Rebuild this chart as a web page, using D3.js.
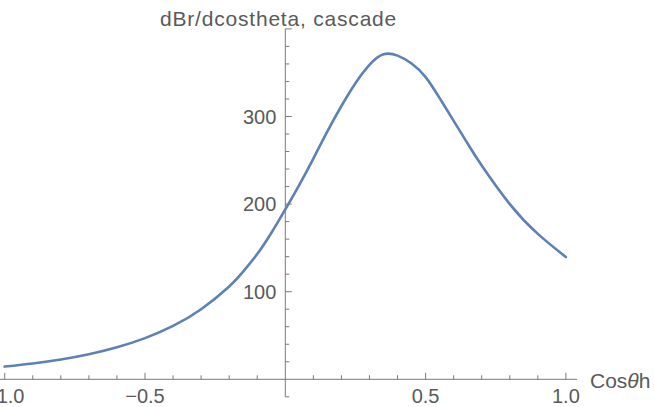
<!DOCTYPE html>
<html>
<head>
<meta charset="utf-8">
<script src="https://cdn.jsdelivr.net/npm/d3@7"></script>
<style>
  html, body { margin: 0; padding: 0; background: #fff; }
  svg { display: block; }
  text { font-family: "Liberation Sans", Arial, sans-serif; fill: #5a5a5a; }
</style>
</head>
<body>
<svg id="chart" width="654" height="407"></svg>
<script>
// ---- data ----
const cosTheta = [-1.0, -0.9, -0.8, -0.7, -0.6, -0.5, -0.4, -0.3, -0.2, -0.15, -0.1, -0.05, 0.0,
                  0.05, 0.1, 0.15, 0.2, 0.25, 0.3, 0.35, 0.4, 0.45, 0.5, 0.55, 0.6, 0.65, 0.7, 0.8, 0.9, 1.0];
const dBr = [14.5, 18.0, 22.5, 28.5, 36.5, 47.0, 61.0, 80.0, 106.0, 123.0, 143.0, 167.0, 194.0,
             222.0, 252.0, 283.0, 312.0, 338.0, 359.0, 371.0, 369.5, 360.5, 345.0, 321.0, 295.0, 269.0, 244.0, 200.0, 166.0, 139.6];
const xMajorTicks = [-1.0, -0.5, 0.5, 1.0];
const xTickLabels = ["\u22121.0", "\u22120.5", "0.5", "1.0"];
const yMajorTicks = [100, 200, 300];
const yTickLabels = ["100", "200", "300"];
const yAxisTitle = "dBr/dcostheta, cascade";

const svg = d3.select("#chart");

const x = d3.scaleLinear().domain([-1, 1]).range([4.7, 565.9]);
const y = d3.scaleLinear().domain([0, 100]).range([379.3, 291.7]);

const axisColor = "#7a7a7a";

// x axis line
svg.append("line")
  .attr("x1", x(-1.02)).attr("x2", x(1.04))
  .attr("y1", y(0)).attr("y2", y(0))
  .attr("stroke", axisColor).attr("stroke-width", 1);

// x ticks
const xMinor = d3.range(-10, 11).map(i => i / 10).filter(v => Math.abs(v) > 1e-9);
const isMajorX = d => Math.abs(Math.abs(d) - 0.5) < 1e-9 || Math.abs(Math.abs(d) - 1) < 1e-9;
svg.append("g").selectAll("line").data(xMinor).join("line")
  .attr("x1", d => x(d)).attr("x2", d => x(d))
  .attr("y1", y(0)).attr("y2", d => y(0) - (isMajorX(d) ? 6.5 : 4))
  .attr("stroke", axisColor).attr("stroke-width", 1);

// x tick labels
svg.append("g").selectAll("text").data(xMajorTicks).join("text")
  .attr("x", d => x(d)).attr("y", 403)
  .attr("text-anchor", "middle")
  .style("font-size", "20px")
  .text((d, i) => xTickLabels[i]);

// x axis title
const xt = svg.append("text").attr("x", 590).attr("y", 388).style("font-size", "21px");
xt.append("tspan").text("Cos");
xt.append("tspan").style("font-style", "italic").text("\u03b8");
xt.append("tspan").text("h");

// y axis line
svg.append("line")
  .attr("x1", x(0)).attr("x2", x(0))
  .attr("y1", y(-20)).attr("y2", y(400))
  .attr("stroke", axisColor).attr("stroke-width", 1);

// y ticks
const yMinor = d3.range(-1, 21).map(i => i * 20).filter(v => v !== 0);
svg.append("g").selectAll("line").data(yMinor).join("line")
  .attr("x1", x(0)).attr("x2", d => x(0) + (d % 100 === 0 ? 6.5 : 4))
  .attr("y1", d => y(d)).attr("y2", d => y(d))
  .attr("stroke", axisColor).attr("stroke-width", 1);

svg.append("g").selectAll("text").data(yMajorTicks).join("text")
  .attr("x", x(0) - 9).attr("y", d => y(d))
  .attr("dy", "0.35em")
  .attr("text-anchor", "end")
  .style("font-size", "20px")
  .text((d, i) => yTickLabels[i]);

// y axis title
svg.append("text")
  .attr("x", 160).attr("y", 26)
  .style("font-size", "21px")
  .style("letter-spacing", "0.8px")
  .text(yAxisTitle);

// curve
const pts = cosTheta.map((c, i) => [c, dBr[i]]);
const line = d3.line().x(d => x(d[0])).y(d => y(d[1])).curve(d3.curveNatural);
svg.append("path")
  .datum(pts)
  .attr("d", line)
  .attr("fill", "none")
  .attr("stroke", "#5E81B5")
  .attr("stroke-width", 2.6)
  .attr("stroke-linecap", "round");
</script>
</body>
</html>
